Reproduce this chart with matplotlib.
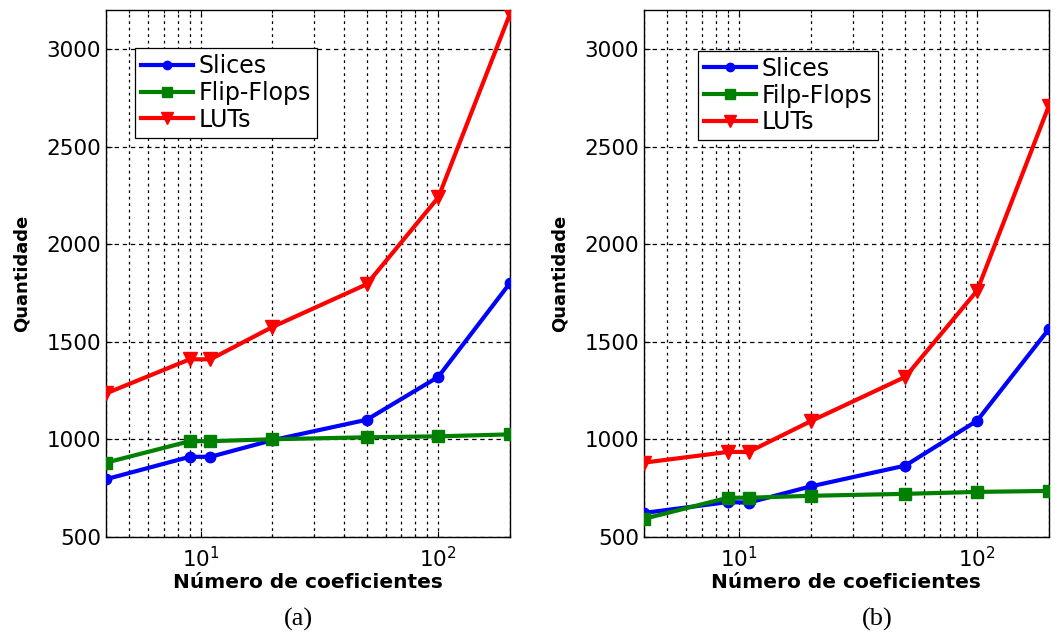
import matplotlib
matplotlib.use('Agg')
import matplotlib.pyplot as plt
import numpy as np

plt.rcParams['font.family'] = ['DejaVu Sans']

# numero de coeficientes
coefs = [4, 9, 11, 20, 50, 100, 200]

# (a)
slices_a = [795, 910, 910, 995, 1100, 1320, 1800]
ff_a = [880, 990, 990, 1000, 1010, 1015, 1025]
luts_a = [1235, 1410, 1410, 1575, 1795, 2240, 3180]

# (b)
slices_b = [622, 678, 675, 758, 865, 1095, 1565]
ff_b = [592, 700, 700, 710, 720, 730, 735]
luts_b = [880, 935, 935, 1092, 1320, 1762, 2710]

labels_a = ['Slices', 'Flip-Flops', 'LUTs']
labels_b = ['Slices', 'Filp-Flops', 'LUTs']
captions = ['(a)', '(b)']

fig = plt.figure(figsize=(10.6, 6.39), dpi=100)
ax1 = fig.add_axes([0.100, 0.160, 0.381, 0.824])
ax2 = fig.add_axes([0.6075, 0.160, 0.382, 0.824])

grid_ls = (0, (2.2, 3.0))


def draw(ax, s, f, l, labels, leg_x, leg_y):
  ax.plot(coefs, s, color='#0000ff', lw=3.0, marker='o', ms=7.5,
          mec='#0000ff', mfc='#0000ff', label=labels[0], zorder=3)
  ax.plot(coefs, f, color='#008000', lw=3.0, marker='s', ms=8.5,
          mec='#008000', mfc='#008000', label=labels[1], zorder=3)
  ax.plot(coefs, l, color='#ff0000', lw=3.0, marker='v', ms=10.5,
          mec='#ff0000', mfc='#ff0000', label=labels[2], zorder=3)

  ax.set_xscale('log')
  ax.set_xlim(4, 200)
  ax.set_ylim(500, 3200)
  ax.set_yticks([500, 1000, 1500, 2000, 2500, 3000])

  ax.grid(True, which='major', axis='y', color='k', ls=(0, (3.5, 3.0)), lw=0.9)
  ax.grid(True, which='both', axis='x', color='k', ls=grid_ls, lw=0.9)

  ax.tick_params(axis='both', which='both', direction='in', top=True, right=True,
                 labelsize=15.5, length=4, width=0.8)
  ax.tick_params(axis='x', which='both', pad=7)
  ax.tick_params(axis='x', which='minor', length=2)
  for sp in ax.spines.values():
    sp.set_linewidth(1.0)

  ax.set_xlabel('Número de coeficientes', fontsize=14.5, fontweight='bold', labelpad=1)
  ax.set_ylabel('Quantidade', fontsize=13, fontweight='bold', labelpad=11)

  leg = ax.legend(loc='upper left', bbox_to_anchor=(leg_x, leg_y), fontsize=17,
                  frameon=True, fancybox=False, framealpha=1, edgecolor='k',
                  handlelength=2.2, handletextpad=0.25, borderpad=0.25,
                  labelspacing=0.12, borderaxespad=0, markerscale=0.8)
  leg.get_frame().set_linewidth(0.9)


draw(ax1, slices_a, ff_a, luts_a, labels_a, 0.072, 0.928)
draw(ax2, slices_b, ff_b, luts_b, labels_b, 0.133, 0.923)

fig.text(0.282, 0.030, captions[0], fontsize=19, family='Liberation Serif', ha='center', va='center')
fig.text(0.828, 0.030, captions[1], fontsize=19, family='Liberation Serif', ha='center', va='center')

fig.savefig('out.png', dpi=100)
